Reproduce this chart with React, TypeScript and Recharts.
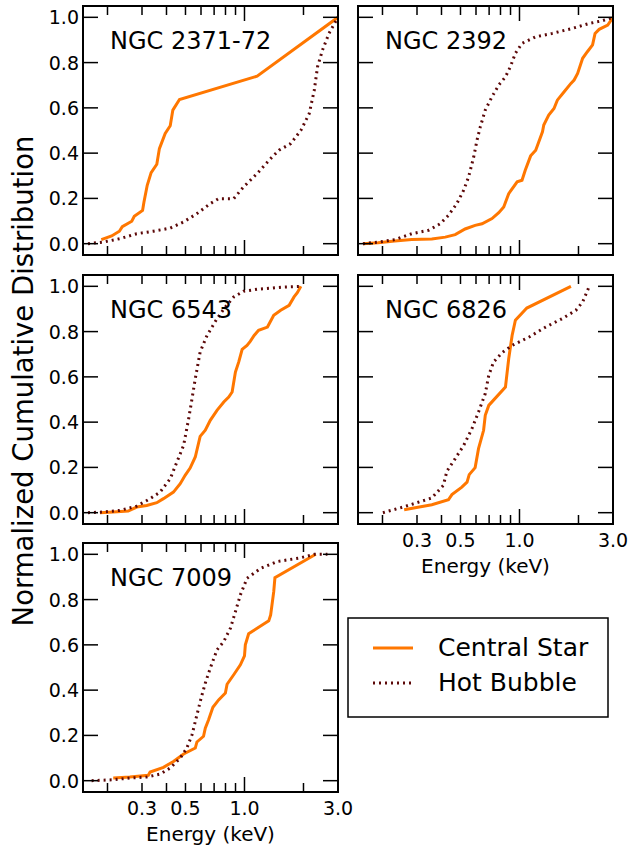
import { LineChart, Line, XAxis, YAxis, Legend } from "recharts"

type Pair = [number, number]

// cumulative photon fraction vs. energy (keV), one pair per step
const ngc2371Star: Pair[] = [
  [0.186, 0.018], [0.21, 0.034], [0.23, 0.055], [0.238, 0.075], [0.266, 0.099],
  [0.274, 0.121], [0.302, 0.147], [0.307, 0.184], [0.319, 0.258], [0.334, 0.314],
  [0.357, 0.351], [0.368, 0.42], [0.394, 0.487], [0.418, 0.521], [0.431, 0.59],
  [0.466, 0.637], [1.16, 0.74], [3.0, 1.0],
]
const ngc2371Bubble: Pair[] = [
  [0.159, 0], [0.19, 0.007], [0.231, 0.022], [0.282, 0.044], [0.343, 0.055],
  [0.418, 0.069], [0.489, 0.096], [0.572, 0.133], [0.669, 0.177], [0.738, 0.199],
  [0.881, 0.199], [0.99, 0.251], [1.16, 0.31], [1.36, 0.376], [1.5, 0.413],
  [1.72, 0.442], [1.94, 0.501], [2.14, 0.575], [2.27, 0.678], [2.36, 0.782],
  [2.5, 0.855], [2.7, 0.929], [3.0, 1.0],
]

const ngc2392Star: Pair[] = [
  [0.159, 0], [0.19, 0.004], [0.231, 0.012], [0.282, 0.018], [0.357, 0.021],
  [0.418, 0.029], [0.47, 0.04], [0.528, 0.065], [0.594, 0.081], [0.644, 0.088],
  [0.724, 0.111], [0.784, 0.137], [0.831, 0.162], [0.881, 0.221], [0.973, 0.273],
  [1.03, 0.28], [1.07, 0.324], [1.14, 0.388], [1.21, 0.413], [1.31, 0.494],
  [1.33, 0.524], [1.41, 0.568], [1.5, 0.597], [1.56, 0.634], [1.69, 0.671],
  [1.83, 0.708], [1.9, 0.723], [1.98, 0.752], [2.1, 0.819], [2.22, 0.848],
  [2.36, 0.878], [2.43, 0.929], [2.55, 0.947], [2.82, 0.966], [3.0, 1.0],
]
const ngc2392Bubble: Pair[] = [
  [0.159, 0], [0.19, 0.007], [0.231, 0.018], [0.282, 0.044], [0.343, 0.059],
  [0.394, 0.088], [0.434, 0.125], [0.479, 0.177], [0.519, 0.236], [0.55, 0.295],
  [0.584, 0.383], [0.607, 0.457], [0.631, 0.516], [0.669, 0.59], [0.724, 0.649],
  [0.784, 0.701], [0.848, 0.737], [0.899, 0.782], [0.953, 0.841], [1.03, 0.885],
  [1.21, 0.914], [1.47, 0.929], [1.86, 0.951], [2.27, 0.973], [2.65, 0.985],
  [3.0, 1.0],
]

const ngc6543Star: Pair[] = [
  [0.183, 0], [0.214, 0.003], [0.255, 0.007], [0.282, 0.025], [0.317, 0.032],
  [0.357, 0.044], [0.386, 0.062], [0.434, 0.091], [0.47, 0.128], [0.498, 0.165],
  [0.528, 0.197], [0.561, 0.246], [0.594, 0.337], [0.631, 0.364], [0.669, 0.408],
  [0.724, 0.452], [0.784, 0.489], [0.831, 0.511], [0.865, 0.533], [0.899, 0.621],
  [0.935, 0.666], [0.973, 0.722], [1.03, 0.739], [1.07, 0.757], [1.12, 0.783],
  [1.18, 0.806], [1.31, 0.82], [1.41, 0.872], [1.53, 0.894], [1.69, 0.916],
  [1.79, 0.953], [1.86, 0.972], [1.94, 1.0],
]
const ngc6543Bubble: Pair[] = [
  [0.159, 0], [0.19, 0.003], [0.231, 0.01], [0.282, 0.029], [0.33, 0.062],
  [0.371, 0.091], [0.418, 0.15], [0.452, 0.224], [0.489, 0.297], [0.519, 0.415],
  [0.54, 0.504], [0.561, 0.592], [0.594, 0.71], [0.644, 0.783], [0.724, 0.857],
  [0.799, 0.909], [0.881, 0.953], [0.99, 0.978], [1.16, 0.987], [1.59, 0.997],
  [1.94, 1.0],
]

const ngc6826Star: Pair[] = [
  [0.258, 0.013], [0.357, 0.035], [0.434, 0.057], [0.452, 0.08], [0.508, 0.113],
  [0.54, 0.135], [0.554, 0.168], [0.594, 0.199], [0.618, 0.283], [0.656, 0.364],
  [0.669, 0.43], [0.697, 0.474], [0.848, 0.555], [0.881, 0.68], [0.917, 0.783],
  [0.953, 0.85], [1.09, 0.904], [1.83, 1.0],
]
const ngc6826Bubble: Pair[] = [
  [0.201, 0], [0.255, 0.025], [0.357, 0.065], [0.409, 0.121], [0.426, 0.183],
  [0.47, 0.239], [0.519, 0.297], [0.572, 0.371], [0.618, 0.445], [0.669, 0.526],
  [0.697, 0.607], [0.738, 0.666], [0.815, 0.707], [0.917, 0.739], [1.12, 0.776],
  [1.36, 0.82], [1.65, 0.857], [1.94, 0.894], [2.1, 0.931], [2.27, 1.0],
]

const ngc7009Star: Pair[] = [
  [0.214, 0.012], [0.26, 0.016], [0.323, 0.024], [0.33, 0.038], [0.386, 0.059],
  [0.434, 0.085], [0.489, 0.118], [0.561, 0.144], [0.572, 0.171], [0.618, 0.196],
  [0.631, 0.232], [0.656, 0.269], [0.69, 0.324], [0.738, 0.357], [0.799, 0.387],
  [0.815, 0.426], [0.881, 0.468], [0.953, 0.512], [1.0, 0.551], [1.01, 0.6],
  [1.05, 0.649], [1.33, 0.706], [1.36, 0.732], [1.41, 0.835], [1.43, 0.897],
  [2.31, 1.0],
]
const ngc7009Bubble: Pair[] = [
  [0.166, 0], [0.214, 0.004], [0.26, 0.012], [0.317, 0.016], [0.371, 0.029],
  [0.418, 0.056], [0.47, 0.1], [0.508, 0.144], [0.54, 0.203], [0.572, 0.291],
  [0.601, 0.365], [0.631, 0.431], [0.669, 0.497], [0.724, 0.578], [0.784, 0.615],
  [0.848, 0.674], [0.899, 0.747], [0.953, 0.821], [1.03, 0.894], [1.21, 0.938],
  [1.47, 0.968], [1.94, 0.985], [2.27, 1.0], [2.65, 1.0],
]

const xTicks = [0.2, 0.3, 0.4, 0.5, 0.6, 0.7, 0.8, 0.9, 1, 2, 3]
const xTickLabels = [0.3, 0.5, 1, 3]
const yTicks = [0, 0.2, 0.4, 0.6, 0.8, 1]

const FONT = "'DejaVu Sans', sans-serif"
const STAR = "#ff7700"
const BUBBLE = "#5c0808"

// plot box size and the space kept around it inside each chart
const PW = 255
const PH = 249
const PAD_L = 80
const PAD_R = 15
const PAD_T = 10
const PAD_B = 60

const frame = { stroke: "#000", strokeWidth: 2, strokeLinecap: "square" as const }

const toPoints = (pairs: Pair[]) => pairs.map(([energy, frac]) => ({ energy, frac }))

// ticks point into the plot box; labels sit outside
function xTick(side: "top" | "bottom", withLabel: boolean) {
  return (props: any) => {
    const { x, y, payload } = props
    const v = payload.value as number
    const len = v === 1 ? 15 : v >= 3 ? 0 : 9
    const dir = side === "bottom" ? -1 : 1
    return (
      <g>
        {len > 0 && (
          <line x1={x} x2={x} y1={y} y2={y + dir * len} stroke="#000" strokeWidth={1.5} />
        )}
        {withLabel && xTickLabels.includes(v) && (
          <text x={x} y={y + 23} textAnchor="middle" fontSize={19} fontFamily={FONT} fill="#000">
            {v.toFixed(1)}
          </text>
        )}
      </g>
    )
  }
}

function yTick(side: "left" | "right", withLabel: boolean) {
  return (props: any) => {
    const { x, y, payload } = props
    const v = payload.value as number
    const dir = side === "left" ? 1 : -1
    return (
      <g>
        <line x1={x} x2={x + dir * 15} y1={y} y2={y} stroke="#000" strokeWidth={1.5} />
        {withLabel && (
          <text x={x - 4} y={y + 7} textAnchor="end" fontSize={19} fontFamily={FONT} fill="#000">
            {v.toFixed(1)}
          </text>
        )}
      </g>
    )
  }
}

const energyLabel = (props: any) => {
  const vb = props.viewBox
  return (
    <text x={vb.x + vb.width / 2} y={vb.y + 49} textAnchor="middle" fontSize={20} fontFamily={FONT} fill="#000">
      Energy (keV)
    </text>
  )
}

function LegendBox(props: any) {
  const items = props.payload || []
  return (
    <svg width={262} height={101} style={{ display: "block" }}>
      <rect x={1} y={1} width={260} height={99} fill="#fff" stroke="#000" strokeWidth={1.5} />
      {items.map((entry: any, i: number) => {
        const cy = 31 + i * 35
        return (
          <g key={entry.value}>
            <line
              x1={26}
              x2={66}
              y1={cy}
              y2={cy}
              stroke={entry.color}
              strokeWidth={3}
              strokeDasharray={entry.payload?.strokeDasharray}
            />
            <text x={91} y={cy + 8} fontSize={25} fontFamily={FONT} fill="#000">
              {entry.value}
            </text>
          </g>
        )
      })}
    </svg>
  )
}

interface PanelProps {
  left: number
  top: number
  star: Pair[]
  bubble: Pair[]
  showX: boolean
  showY: boolean
  legend?: boolean
}

function Panel({ left, top, star, bubble, showX, showY, legend }: PanelProps) {
  const axisX = {
    type: "number" as const,
    dataKey: "energy",
    scale: "log" as const,
    domain: [0.15, 3],
    allowDataOverflow: true,
    ticks: xTicks,
    interval: 0 as const,
    tickSize: 0,
    tickMargin: 0,
    axisLine: frame,
  }
  const axisY = {
    type: "number" as const,
    domain: [-0.05, 1.05],
    allowDataOverflow: true,
    ticks: yTicks,
    interval: 0 as const,
    tickSize: 0,
    tickMargin: 0,
    axisLine: frame,
  }
  return (
    <div style={{ position: "absolute", left: left - PAD_L, top: top - PAD_T }}>
      <LineChart
        width={PAD_L + PW + PAD_R}
        height={PAD_T + PH + PAD_B}
        margin={{ top: 0, right: 0, bottom: 0, left: 0 }}
      >
        <XAxis xAxisId="b" {...axisX} height={PAD_B} tick={xTick("bottom", showX)} label={showX ? energyLabel : undefined} />
        <XAxis xAxisId="t" orientation="top" {...axisX} height={PAD_T} tick={xTick("top", false)} />
        <YAxis yAxisId="l" {...axisY} width={PAD_L} tick={yTick("left", showY)} />
        <YAxis yAxisId="r" orientation="right" {...axisY} width={PAD_R} tick={yTick("right", false)} />
        <Line
          xAxisId="b"
          yAxisId="l"
          data={toPoints(star)}
          dataKey="frac"
          name="Central Star"
          type="linear"
          stroke={STAR}
          strokeWidth={3}
          dot={false}
          isAnimationActive={false}
        />
        <Line
          xAxisId="b"
          yAxisId="l"
          data={toPoints(bubble)}
          dataKey="frac"
          name="Hot Bubble"
          type="linear"
          stroke={BUBBLE}
          strokeWidth={3}
          strokeDasharray="2 4"
          dot={false}
          isAnimationActive={false}
        />
        {legend && (
          <Legend
            layout="horizontal"
            verticalAlign="middle"
            align="center"
            content={LegendBox}
            wrapperStyle={{ left: 344, top: 84, width: 262, height: 101 }}
          />
        )}
      </LineChart>
    </div>
  )
}

const panels = [
  { title: "NGC 2371-72", left: 83, top: 6, star: ngc2371Star, bubble: ngc2371Bubble, showX: false, showY: true },
  { title: "NGC 2392", left: 358, top: 6, star: ngc2392Star, bubble: ngc2392Bubble, showX: false, showY: false },
  { title: "NGC 6543", left: 83, top: 275, star: ngc6543Star, bubble: ngc6543Bubble, showX: false, showY: true },
  { title: "NGC 6826", left: 358, top: 275, star: ngc6826Star, bubble: ngc6826Bubble, showX: true, showY: false },
  { title: "NGC 7009", left: 83, top: 543, star: ngc7009Star, bubble: ngc7009Bubble, showX: true, showY: true, legend: true },
]

export default function App() {
  return (
    <div
      style={{
        position: "absolute",
        left: 0,
        top: 0,
        width: 642,
        height: 847,
        background: "#fff",
        fontFamily: FONT,
        overflow: "hidden",
      }}
    >
      {panels.map((p) => (
        <Panel key={p.title} {...p} />
      ))}
      <svg
        width={642}
        height={847}
        style={{ position: "absolute", left: 0, top: 0, pointerEvents: "none" }}
      >
        {panels.map((p) => (
          <text key={p.title} x={p.left + 27} y={p.top + 43} fontSize={24} fontFamily={FONT} fill="#000">
            {p.title}
          </text>
        ))}
        <text
          x={33}
          y={381}
          transform="rotate(-90 33 381)"
          textAnchor="middle"
          fontSize={27.5}
          fontFamily={FONT}
          fill="#000"
        >
          Normalized Cumulative Distribution
        </text>
      </svg>
    </div>
  )
}
